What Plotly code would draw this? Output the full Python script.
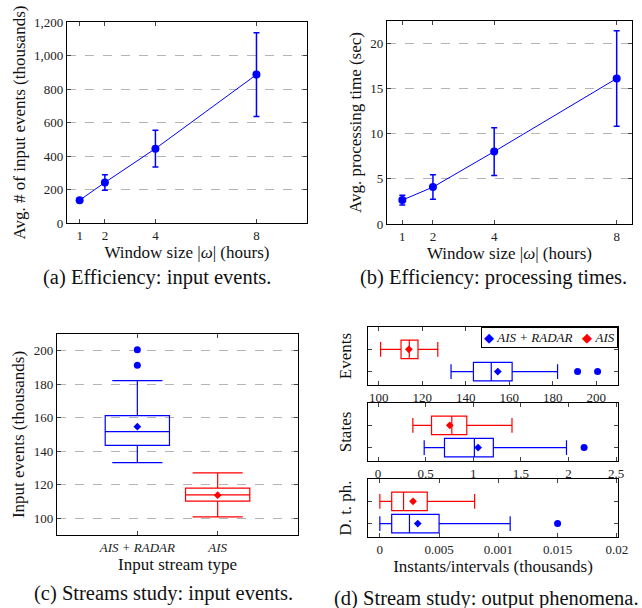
import plotly.graph_objects as go

BLUE = "#0000ff"
RED = "#ff0000"
GRID = "#b4b4b4"
FONT = "Liberation Serif"

# (a) / (b) efficiency vs window size
window_hours = [1, 2, 4, 8]
input_events_avg = [136, 242, 444, 886]
input_events_err = [10, 46, 110, 250]
proc_time_avg = [2.65, 4.09, 8.03, 16.13]
proc_time_err = [0.55, 1.36, 2.65, 5.3]

# (c) / (d) streams study: box statistics per stream type
streams = ["AIS + RADAR", "AIS"]
stream_colors = [BLUE, RED]

events_q1 = [143.5, 110.2]
events_median = [151.7, 114.0]
events_q3 = [161.3, 118.0]
events_low = [133.2, 100.8]
events_high = [182.2, 127.1]
events_mean = [154.7, 113.8]
events_outliers = [[191.4, 200.6], []]

states_q1 = [0.698, 0.562]
states_median = [1.012, 0.775]
states_q3 = [1.211, 0.932]
states_low = [0.485, 0.366]
states_high = [1.979, 1.407]
states_mean = [1.051, 0.754]
states_outliers = [[2.164], []]

dtph_q1 = [0.001, 0.001]
dtph_median = [0.0025, 0.002]
dtph_q3 = [0.005, 0.004]
dtph_low = [0.0, 0.0]
dtph_high = [0.011, 0.008]
dtph_mean = [0.0032, 0.0028]
dtph_outliers = [[0.015], []]

dtph_ticks = [0, 0.005, 0.01, 0.015, 0.02]
dtph_ticktext = ["0", "0.005", "0.001", "0.015", "0.02"]

W, H = 642, 608


def dom_x(a, b):
    return [a / W, b / W]


def dom_y(top, bottom):
    return [1 - bottom / H, 1 - top / H]


fig = go.Figure()

# (a)
fig.add_trace(go.Scatter(
    x=window_hours, y=input_events_avg, mode="lines+markers",
    line=dict(color=BLUE, width=1), marker=dict(color=BLUE, size=8),
    error_y=dict(type="data", array=input_events_err, color=BLUE, thickness=1.5, width=3),
    xaxis="x", yaxis="y", showlegend=False,
))
# (b)
fig.add_trace(go.Scatter(
    x=window_hours, y=proc_time_avg, mode="lines+markers",
    line=dict(color=BLUE, width=1), marker=dict(color=BLUE, size=8),
    error_y=dict(type="data", array=proc_time_err, color=BLUE, thickness=1.5, width=3),
    xaxis="x2", yaxis="y2", showlegend=False,
))

# (c) vertical boxes
for i, name in enumerate(streams):
    col = stream_colors[i]
    fig.add_trace(go.Box(
        x=[name], q1=[events_q1[i]], median=[events_median[i]], q3=[events_q3[i]],
        lowerfence=[events_low[i]], upperfence=[events_high[i]],
        width=0.8, whiskerwidth=0.78, boxpoints=False,
        line=dict(color=col, width=1.2), fillcolor="rgba(0,0,0,0)",
        xaxis="x3", yaxis="y3", showlegend=False, hoverinfo="skip",
    ))
    fig.add_trace(go.Scatter(
        x=[name], y=[events_mean[i]], mode="markers",
        marker=dict(symbol="diamond", color=col, size=6),
        xaxis="x3", yaxis="y3", showlegend=False,
    ))
    if events_outliers[i]:
        fig.add_trace(go.Scatter(
            x=[name] * len(events_outliers[i]), y=events_outliers[i], mode="markers",
            marker=dict(color=col, size=7), xaxis="x3", yaxis="y3", showlegend=False,
        ))

# (d) horizontal boxes, three stacked panels
panels = [
    (events_q1, events_median, events_q3, events_low, events_high, events_mean, events_outliers, "x4", "y4"),
    (states_q1, states_median, states_q3, states_low, states_high, states_mean, states_outliers, "x5", "y5"),
    (dtph_q1, dtph_median, dtph_q3, dtph_low, dtph_high, dtph_mean, dtph_outliers, "x6", "y6"),
]
for q1, med, q3, lo, hi, mean, outl, xa, ya in panels:
    for i, name in enumerate(streams):
        col = stream_colors[i]
        fig.add_trace(go.Box(
            y=[name], q1=[q1[i]], median=[med[i]], q3=[q3[i]],
            lowerfence=[lo[i]], upperfence=[hi[i]], orientation="h",
            width=0.83, whiskerwidth=0.8, boxpoints=False,
            line=dict(color=col, width=1.2), fillcolor="rgba(0,0,0,0)",
            xaxis=xa, yaxis=ya, showlegend=False, hoverinfo="skip",
        ))
        fig.add_trace(go.Scatter(
            x=[mean[i]], y=[name], mode="markers",
            marker=dict(symbol="diamond", color=col, size=6),
            xaxis=xa, yaxis=ya, showlegend=False,
        ))
        if outl[i]:
            fig.add_trace(go.Scatter(
                x=outl[i], y=[name] * len(outl[i]), mode="markers",
                marker=dict(color=col, size=7), xaxis=xa, yaxis=ya, showlegend=False,
            ))

tickfont = dict(family=FONT, size=13, color="#222")
titlefont = dict(family=FONT, size=17, color="#111")
frame = dict(showline=True, linecolor="black", linewidth=1.2, mirror="allticks",
             ticks="inside", ticklen=4, tickcolor="#444", zeroline=False, tickfont=tickfont,
             automargin=False)
ygrid = dict(showgrid=True, gridcolor=GRID, griddash="dash", gridwidth=1)
ycat = dict(type="category", categoryorder="array", categoryarray=streams,
            range=[-0.6, 2.0], showticklabels=False, showgrid=False)

fig.update_layout(
    width=W, height=H, autosize=False,
    margin=dict(l=0, r=0, t=0, b=0),
    paper_bgcolor="white", plot_bgcolor="white",
    font=dict(family=FONT, color="#111"),
    showlegend=False,
    xaxis=dict(domain=dom_x(67, 307), range=[0.5, 10], tickvals=window_hours, showgrid=False,
               title=dict(text="Window size |<i>ω</i>| (hours)", font=titlefont, standoff=4),
               anchor="y", **frame),
    yaxis=dict(domain=dom_y(22, 223), range=[0, 1200], dtick=200, tickformat=",d",
               title=dict(text="Avg. # of input events (thousands)", font=titlefont, standoff=4),
               anchor="x", **frame, **ygrid),
    xaxis2=dict(domain=dom_x(387, 632), range=[0.5, 8.5], tickvals=window_hours, showgrid=False,
                title=dict(text="Window size |<i>ω</i>| (hours)", font=titlefont, standoff=4),
                anchor="y2", **frame),
    yaxis2=dict(domain=dom_y(21, 224), range=[0, 22.5], dtick=5,
                title=dict(text="Avg. processing time (sec)", font=titlefont, standoff=4),
                anchor="x2", **frame, **ygrid),
    xaxis3=dict(domain=dom_x(57, 298), type="category", categoryorder="array", categoryarray=streams,
                range=[-1, 2], tickvals=streams, ticktext=["<i>" + s + "</i>" for s in streams],
                showgrid=False,
                title=dict(text="Input stream type", font=titlefont, standoff=4),
                anchor="y3", **frame),
    yaxis3=dict(domain=dom_y(334, 535), range=[90, 210], dtick=20,
                title=dict(text="Input events (thousands)", font=titlefont, standoff=4),
                anchor="x3", **frame, **ygrid),
    xaxis4=dict(domain=dom_x(368, 618), range=[95, 210], tick0=100, dtick=20, showgrid=False,
                anchor="y4", **frame),
    yaxis4=dict(domain=dom_y(327, 385), title=dict(text="Events", font=titlefont, standoff=10),
                anchor="x4", **ycat, **frame),
    xaxis5=dict(domain=dom_x(368, 618), range=[-0.105, 2.52], dtick=0.5, showgrid=False,
                anchor="y5", **frame),
    yaxis5=dict(domain=dom_y(403, 461), title=dict(text="States", font=titlefont, standoff=10),
                anchor="x5", **ycat, **frame),
    xaxis6=dict(domain=dom_x(368, 618), range=[-0.001, 0.0201], tickvals=dtph_ticks,
                ticktext=dtph_ticktext, showgrid=False,
                title=dict(text="Instants/intervals (thousands)", font=titlefont, standoff=4),
                anchor="y6", **frame),
    yaxis6=dict(domain=dom_y(479, 537), title=dict(text="D. t. ph.", font=titlefont, standoff=10),
                anchor="x6", **ycat, **frame),
)

# legend box of panel (d)
legend_text = "   ".join(
    f'<span style="color:{c}">◆</span> <i>{s}</i>' for s, c in zip(streams, stream_colors)
)
fig.add_annotation(text=legend_text, x=618 / W, y=1 - 327 / H, xref="paper", yref="paper",
                   xanchor="right", yanchor="top", showarrow=False, align="left",
                   font=dict(family=FONT, size=13, color="#111"),
                   bgcolor="white", bordercolor="black", borderwidth=1, borderpad=2)

captions = [
    ("(a) Efficiency: input events.", 157, 277),
    ("(b) Efficiency: processing times.", 493, 277),
    ("(c) Streams study: input events.", 164, 593),
    ("(d) Stream study: output phenomena.", 486, 598),
]
for text, cx, cy in captions:
    fig.add_annotation(text=text, x=cx / W, y=1 - cy / H, xref="paper", yref="paper",
                       showarrow=False, font=dict(family=FONT, size=20.5, color="#111"),
                       xanchor="center", yanchor="middle")

fig.write_html("out.html", config={"displayModeBar": False},
               post_script="document.body.style.margin = '0px';")
